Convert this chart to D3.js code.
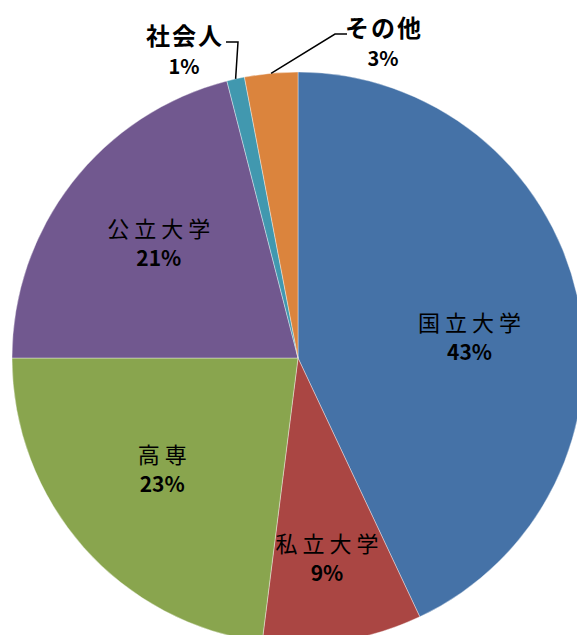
<!DOCTYPE html>
<html lang="ja">
<head>
<meta charset="UTF-8">
<title>進路別 内訳</title>
<script src="https://d3js.org/d3.v7.min.js"></script>
<style>
  body { margin: 0; background: #fff; }
  svg text { font-family: "Noto Sans CJK JP", "Noto Sans", sans-serif; fill: #000; }
  .name { font-size: 22px; letter-spacing: 5px; }
  .pct { font-size: 21px; font-weight: bold; }
  .outer .name { font-size: 24px; font-weight: bold; letter-spacing: 2px; }
  .outer .pct { font-size: 20px; }
  .leader { fill: none; stroke: #000; stroke-width: 1.5px; }
</style>
</head>
<body>
<svg id="chart" width="577" height="635"></svg>
<script>
// データ
const categories = ["国立大学", "私立大学", "高専", "公立大学", "社会人", "その他"];
const values = [43, 9, 23, 21, 1, 3];
const colors = ["#4572A7", "#AA4643", "#89A54E", "#71588F", "#4198AF", "#DB843D"];

// 配置
const width = 577, height = 635;
const cx = 298, cy = 358, r = 286;
const labelR = 185;
// 内側ラベルの微調整
const nudge = {
  "国立大学": [-9, 17],
  "私立大学": [0, 15],
  "高専": [3, -13],
  "公立大学": [7, -4]
};
// 外側ラベル（社会人・その他）の位置
const outerLabels = {
  "社会人": { x: -60, y: -316, side: -1 },
  "その他": { x: 37, y: -324, side: 1 }
};

const svg = d3.select("#chart");
const g = svg.append("g").attr("transform", `translate(${cx},${cy})`);

const pie = d3.pie().sort(null).value(d => d.value);
const arcs = pie(categories.map((c, i) => ({ name: c, value: values[i], color: colors[i] })));

const arc = d3.arc().innerRadius(0).outerRadius(r);
const labelArc = d3.arc().innerRadius(labelR).outerRadius(labelR);

g.selectAll("path.slice")
  .data(arcs)
  .join("path")
  .attr("class", "slice")
  .attr("d", arc)
  .attr("fill", d => d.data.color)
  .attr("stroke", "#fff")
  .attr("stroke-opacity", 0.5)
  .attr("stroke-width", 0.75);

// 内側ラベル
const inner = g.selectAll("g.inner")
  .data(arcs.filter(d => !outerLabels[d.data.name]))
  .join("g")
  .attr("class", "inner")
  .attr("transform", d => {
    const [x, y] = labelArc.centroid(d);
    const n = nudge[d.data.name] || [0, 0];
    return `translate(${x + n[0]},${y + n[1]})`;
  });

inner.append("text")
  .attr("class", "name")
  .attr("text-anchor", "middle")
  .attr("dx", 2.5)
  .attr("y", -4)
  .text(d => d.data.name);

inner.append("text")
  .attr("class", "pct")
  .attr("text-anchor", "middle")
  .attr("y", 25)
  .text(d => d.data.value + "%");

// 外側ラベル + 引き出し線
const outer = g.selectAll("g.outer")
  .data(arcs.filter(d => outerLabels[d.data.name]))
  .join("g")
  .attr("class", "outer");

outer.append("path")
  .attr("class", "leader")
  .attr("d", d => {
    const a = (d.startAngle + d.endAngle) / 2;
    const p0 = [Math.sin(a) * r, -Math.cos(a) * r];
    const o = outerLabels[d.data.name];
    return d3.line()([p0, [o.x, o.y], [o.x + o.side * 12, o.y]]);
  });

outer.each(function(d) {
  const o = outerLabels[d.data.name];
  const sel = d3.select(this);
  // ラベル文字列の幅を測ってから中央揃え
  const name = sel.append("text")
    .attr("class", "name")
    .attr("y", o.y + 3)
    .text(d.data.name);
  const w = name.node().getComputedTextLength();
  const left = o.side < 0 ? o.x - 14 - w : o.x + 10;
  name.attr("x", left);
  sel.append("text")
    .attr("class", "pct")
    .attr("text-anchor", "middle")
    .attr("x", left + w / 2 - 1)
    .attr("y", o.y + 32)
    .text(d.data.value + "%");
});
</script>
</body>
</html>
